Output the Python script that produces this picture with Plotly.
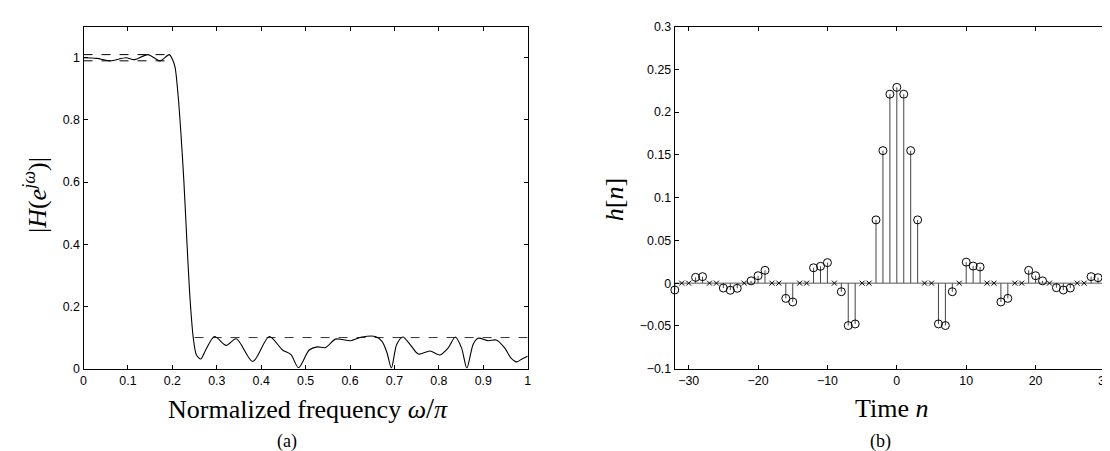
import plotly.graph_objects as go

# ---------------- data: panel (a) magnitude response ----------------
freq = [0.0, 0.03, 0.06, 0.095, 0.115, 0.145, 0.172, 0.193, 0.200, 0.206, 0.213,
        0.219, 0.226, 0.233, 0.240, 0.247, 0.254, 0.264, 0.275, 0.295, 0.321,
        0.344, 0.381, 0.418, 0.448, 0.467, 0.484, 0.508, 0.526, 0.545, 0.567,
        0.582, 0.601, 0.627, 0.657, 0.672, 0.683, 0.693, 0.705, 0.719, 0.735,
        0.754, 0.780, 0.802, 0.821, 0.837, 0.851, 0.863, 0.877, 0.888, 0.911,
        0.929, 0.948, 0.962, 0.975, 0.988, 1.0]
mag = [1.0, 0.998, 0.99, 1.0, 0.994, 1.01, 0.99, 1.01, 0.995, 0.97, 0.877,
       0.762, 0.60, 0.40, 0.22, 0.10, 0.045, 0.031, 0.06, 0.1035, 0.075,
       0.096, 0.023, 0.1035, 0.060, 0.045, 0.003, 0.060, 0.070, 0.068, 0.095,
       0.094, 0.090, 0.102, 0.1035, 0.088, 0.052, 0.002, 0.078, 0.102, 0.078,
       0.047, 0.057, 0.044, 0.067, 0.102, 0.067, 0.002, 0.078, 0.098, 0.090,
       0.092, 0.067, 0.035, 0.022, 0.032, 0.040]

pass_edge = [0.0, 0.2]
pass_upper = [1.01, 1.01]
pass_lower = [0.99, 0.99]
stop_edge = [0.25, 1.0]
stop_level = [0.1, 0.1]

x_ticks_a = [0, 0.1, 0.2, 0.3, 0.4, 0.5, 0.6, 0.7, 0.8, 0.9, 1]
y_ticks_a = [0, 0.2, 0.4, 0.6, 0.8, 1]

# ---------------- data: panel (b) impulse response ----------------
n_idx = list(range(-32, 32))
h_vals = [-0.008, 0, 0, 0.0068, 0.0076, 0, 0, -0.0057, -0.0083, -0.006,
          0, 0.0027, 0.0087, 0.015, 0, 0, -0.0178, -0.022, 0, 0,
          0.018, 0.0197, 0.024, 0, -0.010, -0.0496, -0.0477, 0, 0,
          0.074, 0.155, 0.221, 0.229, 0.221, 0.155, 0.074,
          0, 0, -0.0477, -0.0496, -0.010, 0, 0.0246, 0.020, 0.019, 0, 0,
          -0.022, -0.0178, 0, 0, 0.015, 0.0087, 0.0027, 0, -0.0053, -0.008,
          -0.0057, 0, 0, 0.0076, 0.0064, 0, 0]

x_ticks_b = [-30, -20, -10, 0, 10, 20, 30]
x_ticklabels_b = ["\u221230", "\u221220", "\u221210", "0", "10", "20", "30"]
y_ticks_b = [-0.1, -0.05, 0, 0.05, 0.1, 0.15, 0.2, 0.25, 0.3]
y_ticklabels_b = ["\u22120.1", "\u22120.05", "0", "0.05", "0.1", "0.15", "0.2", "0.25", "0.3"]

# ---------------- figure ----------------
W, H = 1110, 451
fig = go.Figure()

fig.add_trace(go.Scatter(x=pass_edge, y=pass_upper, mode="lines",
                         line=dict(color="black", width=1, dash="dash"),
                         xaxis="x", yaxis="y", showlegend=False))
fig.add_trace(go.Scatter(x=pass_edge, y=pass_lower, mode="lines",
                         line=dict(color="black", width=1, dash="dash"),
                         xaxis="x", yaxis="y", showlegend=False))
fig.add_trace(go.Scatter(x=stop_edge, y=stop_level, mode="lines",
                         line=dict(color="#333333", width=1, dash="dash"),
                         xaxis="x", yaxis="y", showlegend=False))
fig.add_trace(go.Scatter(x=freq, y=mag, mode="lines",
                         line=dict(color="black", width=1.1, shape="spline", smoothing=0.8),
                         xaxis="x", yaxis="y", showlegend=False))

# stems
sx, sy = [], []
for n, v in zip(n_idx, h_vals):
    if v != 0:
        sx += [n, n, None]
        sy += [0, v, None]
fig.add_trace(go.Scatter(x=sx, y=sy, mode="lines",
                         line=dict(color="#444444", width=1),
                         xaxis="x2", yaxis="y2", showlegend=False))
fig.add_trace(go.Scatter(x=[n_idx[0] - 0.5, n_idx[-1] + 0.5], y=[0, 0], mode="lines",
                         line=dict(color="#555555", width=1),
                         xaxis="x2", yaxis="y2", showlegend=False))
cx = [n for n, v in zip(n_idx, h_vals) if v != 0]
cy = [v for v in h_vals if v != 0]
fig.add_trace(go.Scatter(x=cx, y=cy, mode="markers",
                         marker=dict(symbol="circle-open", size=8, color="black",
                                     line=dict(width=1, color="black")),
                         xaxis="x2", yaxis="y2", showlegend=False, cliponaxis=False))
zx = [n for n, v in zip(n_idx, h_vals) if v == 0]
zy = [v for v in h_vals if v == 0]
fig.add_trace(go.Scatter(x=zx, y=zy, mode="markers",
                         marker=dict(symbol="x-thin-open", size=5, color="black",
                                     line=dict(width=1, color="black")),
                         xaxis="x2", yaxis="y2", showlegend=False))

tickfont = dict(family="Liberation Sans, Arial, sans-serif", size=12.4, color="black")
ydom = [(H - 365) / H, (H - 12) / H]
common = dict(showline=True, linecolor="black", linewidth=1.2, ticks="inside",
              ticklen=4, tickcolor="black", tickwidth=1, showgrid=False,
              zeroline=False, tickfont=tickfont)

fig.update_layout(
    width=W, height=H, margin=dict(l=0, r=0, t=0, b=0),
    plot_bgcolor="white", paper_bgcolor="white",
    xaxis=dict(domain=[73 / W, 520 / W], range=[0, 1], tickvals=x_ticks_a,
               ticktext=[("%g" % t) for t in x_ticks_a], mirror="ticks",
               anchor="y", **common),
    yaxis=dict(domain=ydom, range=[0, 1.1], tickvals=y_ticks_a,
               ticktext=[("%g" % t) for t in y_ticks_a], mirror="ticks",
               anchor="x", **common),
    xaxis2=dict(domain=[668 / W, 1.0], range=[-32, 31.3], tickvals=x_ticks_b,
                ticktext=x_ticklabels_b, mirror="ticks", anchor="y2", **common),
    yaxis2=dict(domain=ydom, range=[-0.1, 0.3], tickvals=y_ticks_b,
                ticktext=y_ticklabels_b, mirror=False, anchor="x2", **common),
)

serif = "Liberation Serif, Times New Roman, serif"
ann = [
    (299, 406, "Normalized frequency <i>ω</i><span style='font-size:29px'>/</span><i>π</i>", 26, 0),
    (278, 440, "(a)", 18, 0),
    (886, 406, "Time <i>n</i>", 26, 0),
    (875, 440, "(b)", 18, 0),
    (24, 186, "|<i>H</i>(<i>e</i><sup><i>jω</i></sup>)|", 26, -90),
    (607, 191, "<i>h</i>[<i>n</i>]", 26, -90),
]
for px, py, txt, sz, ang in ann:
    fig.add_annotation(x=px / W, y=1 - py / H, xref="paper", yref="paper",
                       text=txt, showarrow=False, textangle=ang,
                       font=dict(family=serif, size=sz, color="black"),
                       xanchor="center", yanchor="middle")

fig.write_html("out.html")
